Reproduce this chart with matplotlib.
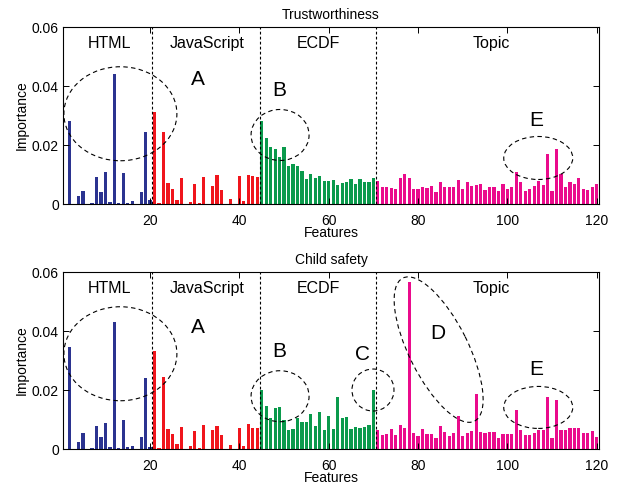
import matplotlib
matplotlib.use('Agg')
import matplotlib.pyplot as plt
from matplotlib.patches import Ellipse
from matplotlib.transforms import ScaledTranslation

plt.rcParams['font.family'] = ['Liberation Sans', 'DejaVu Sans']

groups = ['HTML', 'JavaScript', 'ECDF', 'Topic']
group_colors = ['#2b3390', '#f0151c', '#0a9a4c', '#ea0b8c']

trust_html = [0, 0.028, 0, 0.0027, 0.0045, 0, 0.0002, 0.0093, 0.004, 0.011,
              0.0007, 0.044, 0.0005, 0.0104, 0.0005, 0.001, 0, 0.004, 0.0245, 0.0014]
trust_js = [0.0312, 0.0005, 0.0245, 0.0072, 0.0052, 0.0014, 0.0089, 0, 0.0008, 0.0068,
            0.0005, 0.009, 0, 0.0061, 0.0097, 0.0047, 0, 0.0016, 0, 0.0095,
            0.0011, 0.010, 0.0094, 0.009]
trust_ecdf = [0.0282, 0.0225, 0.0194, 0.0185, 0.0158, 0.0193, 0.0129, 0.0136, 0.013, 0.0112,
              0.0086, 0.0103, 0.0087, 0.0095, 0.0077, 0.0079, 0.008, 0.0066, 0.0072, 0.0075,
              0.0084, 0.0069, 0.0086, 0.0076, 0.0073, 0.0088]
trust_topic = [0.0077, 0.0059, 0.0056, 0.0054, 0.005, 0.0088, 0.0103, 0.0088, 0.005, 0.005,
               0.0059, 0.0055, 0.0062, 0.0041, 0.0075, 0.0059, 0.0059, 0.0059, 0.0082, 0.0051,
               0.0076, 0.0062, 0.0066, 0.0068, 0.0047, 0.0059, 0.0059, 0.0045, 0.0068, 0.0052,
               0.0059, 0.011, 0.0075, 0.0045, 0.0052, 0.0061, 0.0077, 0.0066, 0.0171, 0.0045,
               0.0188, 0.0102, 0.0056, 0.0076, 0.0069, 0.0088, 0.0052, 0.0047, 0.0059, 0.0068]

child_html = [0, 0.0347, 0, 0.0025, 0.0053, 0, 0.0002, 0.0077, 0.0042, 0.0089,
              0.0007, 0.0432, 0.0003, 0.0097, 0.0007, 0.0011, 0, 0.0042, 0.024, 0.0008]
child_js = [0.0332, 0.0005, 0.0243, 0.0069, 0.005, 0.0017, 0.0073, 0, 0.001, 0.0061,
            0.0005, 0.008, 0, 0.0063, 0.0079, 0.0047, 0, 0.0014, 0, 0.0072,
            0.001, 0.0084, 0.0072, 0.0072]
child_ecdf = [0.02, 0.0147, 0.0106, 0.0138, 0.0143, 0.0098, 0.0066, 0.0067, 0.0104, 0.0092,
              0.0093, 0.0119, 0.0079, 0.0127, 0.0066, 0.0113, 0.0069, 0.0175, 0.0105, 0.0108,
              0.0069, 0.0076, 0.007, 0.0073, 0.0081, 0.0201]
child_topic = [0.0064, 0.0047, 0.0051, 0.0067, 0.0046, 0.0082, 0.007, 0.0565, 0.0055, 0.0045,
               0.0069, 0.005, 0.0051, 0.0038, 0.0078, 0.0057, 0.0044, 0.0053, 0.0112, 0.0044,
               0.0055, 0.0062, 0.0185, 0.0058, 0.0053, 0.0056, 0.0056, 0.0036, 0.0052, 0.0051,
               0.005, 0.0133, 0.0066, 0.0047, 0.0047, 0.0055, 0.0063, 0.0063, 0.0176, 0.0037,
               0.0165, 0.0066, 0.0063, 0.0072, 0.007, 0.007, 0.0053, 0.0053, 0.0062, 0.0041]

x_ticks = [20, 40, 60, 80, 100, 120]
y_ticks = [0, 0.02, 0.04, 0.06]
y_ticklabels = ['0', '0.02', '0.04', '0.06']


def draw_panel(ax, title, series):
    start = 1
    bounds = []
    for vals, color in zip(series, group_colors):
        xs = list(range(start, start + len(vals)))
        ax.bar(xs, vals, width=0.72, color=color, edgecolor='none')
        start += len(vals)
        bounds.append(start - 0.5)
    # dashed separators between groups
    for b in bounds[:-1]:
        ax.axvline(b, color='black', linestyle=(0, (2.5, 2)), linewidth=0.8)
    ax.set_xlim(0.5, 120.5)
    ax.set_ylim(0, 0.06)
    ax.set_xticks(x_ticks)
    ax.set_yticks(y_ticks)
    ax.set_yticklabels(y_ticklabels)
    ax.tick_params(direction='in', top=True, right=True, length=4, width=0.7,
                   labelsize=10)
    ax.tick_params(axis='x', pad=7)
    ax.tick_params(axis='y', pad=3)
    for s in ax.spines.values():
        s.set_linewidth(0.8)
    ax.set_title(title, fontsize=10, pad=6)
    ax.set_xlabel('Features', fontsize=10, labelpad=-1)
    ax.set_ylabel('Importance', fontsize=10, labelpad=2)
    # group names
    for name, xc in zip(groups, [10.9, 32.7, 57.6, 96.5]):
        ax.text(xc, 0.0543, name, fontsize=11.5, ha='center', va='center')


def oval(ax, cx, cy, w, h, angle=0):
    # w, h in pixels, centre in data units
    tr = ax.figure.dpi_scale_trans + ScaledTranslation(cx, cy, ax.transData)
    e = Ellipse((0, 0), w / 100.0, h / 100.0, angle=angle, transform=tr,
                fill=False, edgecolor='black', linestyle=(0, (4, 3)), linewidth=0.8,
                clip_on=False)
    ax.add_patch(e)


def letter(ax, x, y, s):
    ax.text(x, y, s, fontsize=15, ha='center', va='center')


fig = plt.figure(figsize=(6.17, 4.87), dpi=100)
ax1 = fig.add_axes([0.1021, 0.5811, 0.8687, 0.3634])
ax2 = fig.add_axes([0.1021, 0.0780, 0.8687, 0.3634])

draw_panel(ax1, 'Trustworthiness', [trust_html, trust_js, trust_ecdf, trust_topic])
draw_panel(ax2, 'Child safety', [child_html, child_js, child_ecdf, child_topic])

# top panel annotations
oval(ax1, 13.35, 0.0306, 113, 94)
oval(ax1, 49.1, 0.0234, 58, 51)
oval(ax1, 106.9, 0.0156, 69, 43)
letter(ax1, 30.6, 0.0423, 'A')
letter(ax1, 48.9, 0.0386, 'B')
letter(ax1, 106.5, 0.0282, 'E')

# bottom panel annotations
oval(ax2, 13.35, 0.0323, 113, 94)
oval(ax2, 49.1, 0.0179, 58, 51)
oval(ax2, 69.9, 0.0200, 42, 42)
oval(ax2, 84.6, 0.0337, 160, 59, angle=116.6)
oval(ax2, 106.9, 0.0141, 69, 42)
letter(ax2, 30.6, 0.0411, 'A')
letter(ax2, 48.9, 0.0332, 'B')
letter(ax2, 67.6, 0.0321, 'C')
letter(ax2, 84.5, 0.0392, 'D')
letter(ax2, 106.5, 0.0271, 'E')

fig.savefig('out.png', dpi=100)
